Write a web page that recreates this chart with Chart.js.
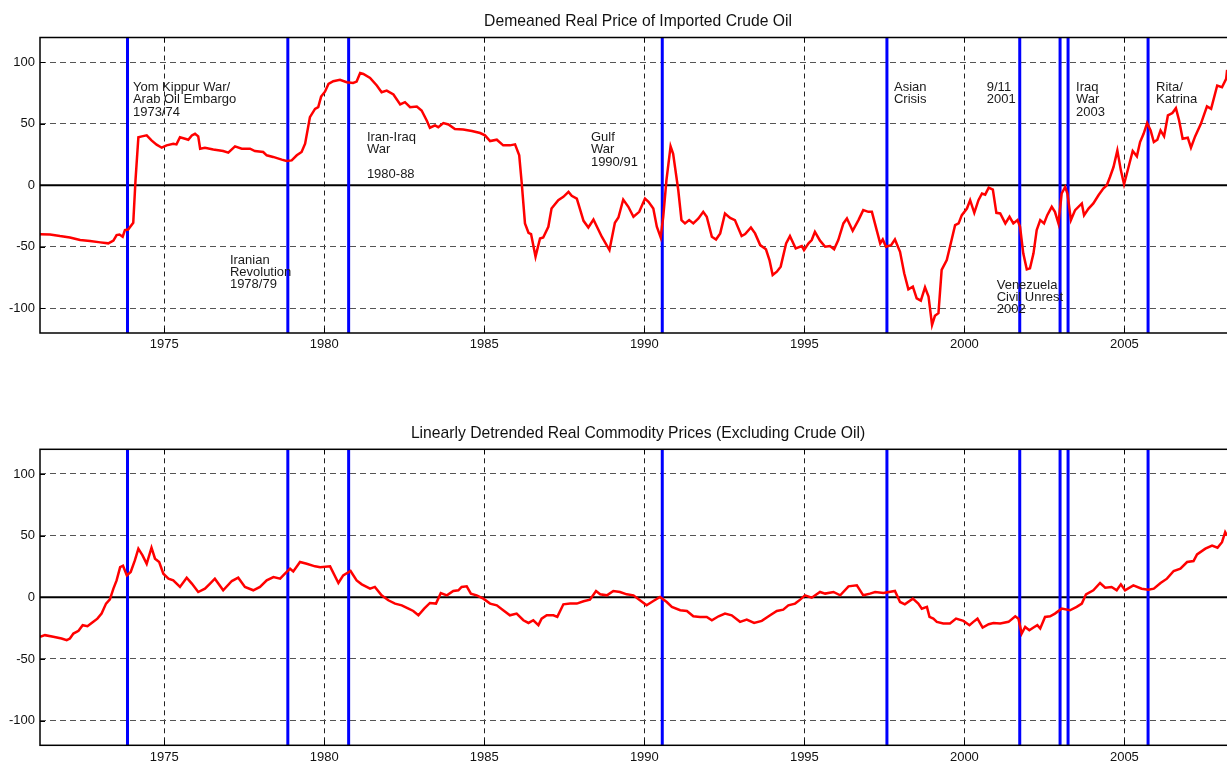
<!DOCTYPE html>
<html>
<head>
<meta charset="utf-8">
<script src="https://cdn.jsdelivr.net/npm/chart.js@4.4.1/dist/chart.umd.min.js"></script>
<style>
  body { margin: 0; background: #fff; overflow: hidden; }
  #wrap { position: relative; width: 1227px; height: 762px; overflow: hidden; }
  canvas { position: absolute; left: 0; }
  #oil { top: 0; }
  #comm { top: 400px; }
</style>
</head>
<body>
<div id="wrap">
  <canvas id="oil" width="1230" height="375"></canvas>
  <canvas id="comm" width="1230" height="362"></canvas>
</div>
<script>
// data (decimal years)
const oilYears = [1971.12, 1971.43, 1971.74, 1972.05, 1972.37, 1972.68, 1973.0, 1973.25, 1973.41, 1973.51, 1973.6, 1973.7, 1973.77, 1973.87, 1974.03, 1974.1, 1974.19, 1974.3, 1974.45, 1974.6, 1974.76, 1974.92, 1975.07, 1975.28, 1975.38, 1975.49, 1975.65, 1975.75, 1975.86, 1975.96, 1976.06, 1976.12, 1976.27, 1976.53, 1976.84, 1977.0, 1977.21, 1977.42, 1977.68, 1977.83, 1978.09, 1978.2, 1978.4, 1978.67, 1978.82, 1978.98, 1979.14, 1979.29, 1979.4, 1979.55, 1979.71, 1979.81, 1979.9, 1980.02, 1980.13, 1980.28, 1980.49, 1980.7, 1980.9, 1981.01, 1981.12, 1981.22, 1981.43, 1981.64, 1981.79, 1981.95, 1982.16, 1982.37, 1982.52, 1982.68, 1982.89, 1983.04, 1983.2, 1983.3, 1983.46, 1983.56, 1983.72, 1983.88, 1984.08, 1984.34, 1984.61, 1984.87, 1985.02, 1985.18, 1985.39, 1985.59, 1985.8, 1985.96, 1986.09, 1986.17, 1986.27, 1986.38, 1986.46, 1986.6, 1986.74, 1986.84, 1987.0, 1987.1, 1987.31, 1987.47, 1987.63, 1987.73, 1987.89, 1988.1, 1988.25, 1988.41, 1988.67, 1988.91, 1989.08, 1989.19, 1989.34, 1989.5, 1989.66, 1989.84, 1990.02, 1990.13, 1990.28, 1990.39, 1990.51, 1990.59, 1990.69, 1990.82, 1990.9, 1991.06, 1991.16, 1991.27, 1991.4, 1991.53, 1991.69, 1991.84, 1991.95, 1992.11, 1992.24, 1992.37, 1992.52, 1992.68, 1992.83, 1993.04, 1993.15, 1993.33, 1993.46, 1993.62, 1993.8, 1993.91, 1994.01, 1994.14, 1994.26, 1994.43, 1994.55, 1994.73, 1994.92, 1994.99, 1995.13, 1995.23, 1995.33, 1995.49, 1995.65, 1995.8, 1995.93, 1996.06, 1996.22, 1996.33, 1996.51, 1996.69, 1996.84, 1997.0, 1997.11, 1997.26, 1997.37, 1997.45, 1997.55, 1997.71, 1997.83, 1997.99, 1998.12, 1998.25, 1998.39, 1998.51, 1998.64, 1998.77, 1998.88, 1998.99, 1999.08, 1999.19, 1999.29, 1999.45, 1999.55, 1999.71, 1999.82, 1999.92, 2000.08, 2000.18, 2000.31, 2000.44, 2000.55, 2000.65, 2000.76, 2000.89, 2001.0, 2001.12, 2001.28, 2001.41, 2001.53, 2001.66, 2001.74, 2001.84, 2001.95, 2002.05, 2002.16, 2002.26, 2002.37, 2002.49, 2002.59, 2002.73, 2002.83, 2002.94, 2003.04, 2003.15, 2003.22, 2003.33, 2003.46, 2003.67, 2003.74, 2003.88, 2004.03, 2004.19, 2004.34, 2004.45, 2004.55, 2004.66, 2004.78, 2004.89, 2004.99, 2005.13, 2005.26, 2005.39, 2005.49, 2005.6, 2005.71, 2005.82, 2005.92, 2006.03, 2006.13, 2006.24, 2006.36, 2006.5, 2006.61, 2006.71, 2006.82, 2006.98, 2007.08, 2007.21, 2007.39, 2007.58, 2007.71, 2007.9, 2008.05, 2008.18, 2008.21];
const oilValues = [-39.7, -40, -41.3, -42.4, -44.5, -45.3, -46.4, -47.2, -45, -40.5, -40, -41.8, -36.4, -36, -30.5, 4, 39, 39.7, 40.5, 36.4, 33, 30.5, 32.4, 33.7, 33.2, 39, 37.8, 37, 40.5, 41.8, 39.7, 29.7, 30.5, 29.1, 27.8, 26.5, 31.6, 29.7, 29.7, 27.8, 27, 24.3, 23, 20.8, 19.7, 20.2, 24.3, 27, 33.7, 55.3, 62, 63.4, 72, 76, 82.3, 84.5, 85.6, 83.7, 83.1, 84.2, 91.2, 90.4, 87.2, 81, 75.6, 76.9, 73.7, 65.6, 67.5, 63.4, 64, 60.7, 52.6, 46.7, 48.6, 47.2, 50.5, 49.4, 45.6, 45.3, 44, 42.4, 40.5, 35.9, 37, 32.4, 32.4, 33.2, 24.3, 1.3, -31, -38.6, -39.7, -58, -43.2, -42.4, -33.7, -18.9, -12.1, -9.4, -5.4, -8.6, -10.8, -28.9, -34.3, -27.8, -41.8, -52.6, -30.5, -26.2, -11.6, -17.5, -25.6, -21.6, -10.8, -13.5, -18.9, -33.7, -42.4, -25.6, 4, 31.6, 25.6, -4, -28.3, -31, -28.3, -31, -27, -21.6, -25.6, -41.8, -44, -39.1, -22.9, -26.5, -28.3, -41.3, -39.7, -34.3, -39.1, -48.6, -52, -60.7, -72.9, -70.2, -66.1, -47.2, -41.3, -51.3, -49.4, -52.6, -47.2, -44.5, -37.8, -45, -49.9, -49.4, -52, -44.5, -31, -27, -37, -28.3, -20.2, -21.6, -21.6, -36.4, -47.2, -44, -49.9, -48.6, -44, -54, -71.5, -84.5, -82.3, -91.8, -93.7, -82.9, -90.4, -113.4, -106, -103.9, -68.8, -60.7, -49.9, -32.4, -31, -24.3, -18.9, -12.1, -22.4, -12.1, -6.7, -7.6, -1.9, -3.5, -22.4, -22.9, -31, -25.6, -31, -28.3, -33.7, -55.3, -68.3, -67.5, -55.3, -36.4, -28.3, -31, -24.3, -17.5, -21.6, -31, -6.7, -1.3, -6.7, -28.3, -20.2, -14.8, -24.3, -18.9, -14.8, -8.1, -2.7, 0, 6.7, 14.8, 28.3, 12.1, 0.8, 14.8, 27.8, 23.5, 35.1, 41.8, 50.5, 44.5, 35.1, 37, 44.5, 39.7, 56.7, 58.6, 62.6, 52.6, 37.8, 38.6, 30.5, 39.7, 49.9, 64, 62, 81, 79.6, 86.4, 93.7];

const commYears = [1971.12, 1971.27, 1971.53, 1971.79, 1971.95, 1972.05, 1972.16, 1972.32, 1972.45, 1972.6, 1972.73, 1972.91, 1973.04, 1973.18, 1973.3, 1973.41, 1973.51, 1973.62, 1973.71, 1973.83, 1973.95, 1974.08, 1974.19, 1974.32, 1974.45, 1974.6, 1974.71, 1974.84, 1974.97, 1975.13, 1975.28, 1975.49, 1975.7, 1975.86, 1976.06, 1976.27, 1976.43, 1976.58, 1976.84, 1977.11, 1977.31, 1977.52, 1977.78, 1977.99, 1978.2, 1978.41, 1978.62, 1978.77, 1978.93, 1979.03, 1979.24, 1979.45, 1979.71, 1979.87, 1980.18, 1980.44, 1980.59, 1980.82, 1981.01, 1981.17, 1981.43, 1981.58, 1981.79, 1982.0, 1982.21, 1982.42, 1982.63, 1982.78, 1982.94, 1983.12, 1983.3, 1983.49, 1983.64, 1983.83, 1984.03, 1984.19, 1984.29, 1984.45, 1984.58, 1984.76, 1984.97, 1985.18, 1985.39, 1985.59, 1985.8, 1986.01, 1986.22, 1986.38, 1986.53, 1986.69, 1986.79, 1986.95, 1987.16, 1987.28, 1987.47, 1987.68, 1987.89, 1988.1, 1988.3, 1988.49, 1988.62, 1988.83, 1989.03, 1989.24, 1989.45, 1989.66, 1989.8, 1990.07, 1990.28, 1990.49, 1990.7, 1990.86, 1991.12, 1991.33, 1991.53, 1991.74, 1991.95, 1992.11, 1992.32, 1992.52, 1992.73, 1992.99, 1993.2, 1993.43, 1993.67, 1993.93, 1994.14, 1994.34, 1994.5, 1994.71, 1994.87, 1995.02, 1995.23, 1995.49, 1995.65, 1995.91, 1996.12, 1996.38, 1996.64, 1996.84, 1997.05, 1997.21, 1997.47, 1997.83, 1997.99, 1998.14, 1998.39, 1998.56, 1998.67, 1998.83, 1998.91, 1999.03, 1999.14, 1999.34, 1999.55, 1999.74, 1999.97, 2000.16, 2000.28, 2000.41, 2000.57, 2000.76, 2000.91, 2001.12, 2001.38, 2001.59, 2001.69, 2001.79, 2001.9, 2002.03, 2002.16, 2002.28, 2002.37, 2002.52, 2002.68, 2002.83, 2003.04, 2003.3, 2003.51, 2003.67, 2003.8, 2004.03, 2004.24, 2004.4, 2004.6, 2004.76, 2004.89, 2005.02, 2005.28, 2005.54, 2005.75, 2005.92, 2006.13, 2006.33, 2006.54, 2006.75, 2006.96, 2007.16, 2007.27, 2007.53, 2007.74, 2007.91, 2008.05, 2008.15, 2008.21];
const commValues = [-32, -30.7, -32, -33.4, -34.8, -33.4, -29.4, -27.2, -22.6, -23.4, -20.8, -17.3, -13.2, -5.1, -1.6, 7, 13.7, 24.5, 25.6, 17.8, 20.5, 29.9, 39.4, 34, 27.2, 40.2, 31.3, 28.6, 19.1, 15.1, 13.7, 8.4, 15.9, 11.1, 4.3, 7, 11.1, 15.1, 5.7, 13.2, 15.9, 8.4, 5.7, 8.4, 13.7, 16.4, 15.1, 19.1, 23.2, 21, 28.6, 27.2, 25.1, 24.3, 25.1, 11.6, 17.8, 21.3, 13.7, 10.5, 7, 8.4, 1.6, -2.4, -5.1, -6.5, -9.2, -11.1, -14.6, -9.2, -4.6, -5.1, 3.5, 1.6, 5.1, 5.7, 8.4, 8.9, 3, 1.6, -1.1, -5.1, -6.5, -10.5, -14.6, -13.2, -18.6, -20.8, -18.6, -22.6, -17.3, -14.6, -14.6, -15.9, -5.7, -5.1, -5.1, -3.2, -1.9, 5.1, 2.4, 1.6, 5.1, 4.3, 2.4, 1.6, -1.1, -6.5, -3, 0.3, -3.8, -7.8, -10.5, -11.1, -15.4, -15.9, -15.9, -18.6, -15.4, -13.2, -14.6, -19.9, -18.1, -20.8, -19.1, -14.6, -11.1, -10, -6.5, -5.1, -1.9, 1.6, -0.3, 4.3, 3, 4.3, 1.6, 8.9, 9.7, 1.6, 3, 4.3, 3.5, 5.1, -3.8, -5.7, -1.1, -5.1, -9.2, -7.8, -15.9, -17.3, -19.9, -21.3, -21.3, -17.3, -19.1, -22.6, -19.9, -17.3, -24.5, -21.8, -20.8, -21.3, -19.9, -15.4, -17.3, -29.4, -24, -26.7, -24.5, -22.6, -25.3, -15.9, -15.4, -13.2, -9.2, -10.5, -7.8, -5.1, 2.4, 5.7, 11.6, 7.8, 8.4, 5.7, 10.5, 5.7, 9.7, 7, 6.2, 7, 11.6, 15.1, 21.3, 23.2, 28.6, 29.4, 34.8, 39.4, 42, 40.2, 44.7, 52.8, 50.1];

const eventYears = [1973.85, 1978.86, 1980.76, 1990.56, 1997.58, 2001.73, 2002.99, 2003.24, 2005.74];
const xTicks = [1975, 1980, 1985, 1990, 1995, 2000, 2005];
const yTicks = [-100, -50, 0, 50, 100];

const oilNotes = [
  { x: 1974.02, y: 79.4, lines: ["Yom Kippur War/", "Arab Oil Embargo", "1973/74"] },
  { x: 1977.05, y: -60.7, lines: ["Iranian", "Revolution", "1978/79"] },
  { x: 1981.33, y: 38.9, lines: ["Iran-Iraq", "War", "", "1980-88"] },
  { x: 1988.33, y: 38.9, lines: ["Gulf", "War", "1990/91"] },
  { x: 1997.8, y: 79.4, lines: ["Asian", "Crisis"] },
  { x: 2000.7, y: 79.4, lines: ["9/11", "2001"] },
  { x: 2003.49, y: 79.4, lines: ["Iraq", "War", "2003"] },
  { x: 2005.99, y: 79.4, lines: ["Rita/", "Katrina"] },
  { x: 2001.01, y: -81, lines: ["Venezuela", "Civil Unrest", "2002"] },
];

const FONT = "'Liberation Sans', Arial, Helvetica, sans-serif";

const decor = {
  id: "decor",
  beforeDatasetsDraw(chart) {
    const { ctx, chartArea: a, scales } = chart;
    ctx.save();
    // zero line
    const y0 = scales.y.getPixelForValue(0);
    ctx.strokeStyle = "#000";
    ctx.lineWidth = 2;
    ctx.beginPath();
    ctx.moveTo(a.left, y0);
    ctx.lineTo(a.right, y0);
    ctx.stroke();
    // event lines
    ctx.strokeStyle = "#0000ff";
    ctx.lineWidth = 3;
    eventYears.forEach((yr) => {
      const x = scales.x.getPixelForValue(yr);
      ctx.beginPath();
      ctx.moveTo(x, a.top);
      ctx.lineTo(x, a.bottom);
      ctx.stroke();
    });
    ctx.restore();
  },
  afterDraw(chart, args, opts) {
    const { ctx, chartArea: a, scales } = chart;
    ctx.save();
    // box and inward ticks
    ctx.strokeStyle = "#000";
    ctx.lineWidth = 1.5;
    ctx.strokeRect(a.left, a.top, a.right - a.left, a.bottom - a.top);
    ctx.lineWidth = 1;
    ctx.beginPath();
    xTicks.forEach((v) => {
      const x = Math.round(scales.x.getPixelForValue(v)) + 0.5;
      ctx.moveTo(x, a.bottom);
      ctx.lineTo(x, a.bottom - 5);
      ctx.moveTo(x, a.top);
      ctx.lineTo(x, a.top + 5);
    });
    yTicks.forEach((v) => {
      const y = Math.round(scales.y.getPixelForValue(v)) + 0.5;
      ctx.moveTo(a.left, y);
      ctx.lineTo(a.left + 5, y);
    });
    ctx.stroke();
    // title
    ctx.fillStyle = "#111";
    ctx.font = "15.7px " + FONT;
    ctx.textAlign = "center";
    ctx.textBaseline = "middle";
    ctx.fillText(opts.title, (a.left + a.right) / 2 + 3, a.top - 16);
    // notes
    ctx.font = "13px " + FONT;
    ctx.textAlign = "left";
    ctx.fillStyle = "#1a1a1a";
    (opts.notes || []).forEach((n) => {
      const x = scales.x.getPixelForValue(n.x);
      const y = scales.y.getPixelForValue(n.y);
      n.lines.forEach((t, i) => ctx.fillText(t, x, y + i * 12.4));
    });
    ctx.restore();
  },
};

function makeChart(id, years, values, title, notes, padTop, xAxisH) {
  return new Chart(document.getElementById(id), {
    type: "line",
    data: {
      datasets: [
        {
          data: years.map((x, i) => ({ x: x, y: values[i] })),
          borderColor: "#ff0000",
          borderWidth: 2.5,
          pointRadius: 0,
          tension: 0,
        },
      ],
    },
    options: {
      responsive: false,
      animation: false,
      events: [],
      layout: { padding: { top: padTop, right: 0, bottom: 0, left: 0 } },
      plugins: {
        legend: { display: false },
        tooltip: { enabled: false },
        decor: { title: title, notes: notes },
      },
      scales: {
        x: {
          type: "linear",
          min: 1971.116,
          max: 2008.3,
          afterFit: (s) => { s.height = xAxisH; },
          afterBuildTicks: (s) => { s.ticks = xTicks.map((v) => ({ value: v })); },
          grid: { color: "#222", lineWidth: 1, drawTicks: false },
          border: { display: false, dash: [5, 4] },
          ticks: {
            padding: 4,
            color: "#111",
            font: { family: FONT, size: 13 },
            maxRotation: 0,
            callback: (v) => String(v),
          },
        },
        y: {
          min: -120,
          max: 120,
          afterFit: (s) => { s.width = 40; },
          afterBuildTicks: (s) => { s.ticks = yTicks.map((v) => ({ value: v })); },
          grid: { color: "#555", lineWidth: 1, drawTicks: false },
          border: { display: false, dash: [6, 4] },
          ticks: {
            padding: 5,
            color: "#111",
            font: { family: FONT, size: 13 },
            callback: (v) => String(v),
          },
        },
      },
    },
    plugins: [decor],
  });
}

makeChart("oil", oilYears, oilValues, "Demeaned Real Price of Imported Crude Oil", oilNotes, 37.5, 42);
makeChart("comm", commYears, commValues, "Linearly Detrended Real Commodity Prices (Excluding Crude Oil)", [], 49.3, 16.7);
</script>
</body>
</html>
